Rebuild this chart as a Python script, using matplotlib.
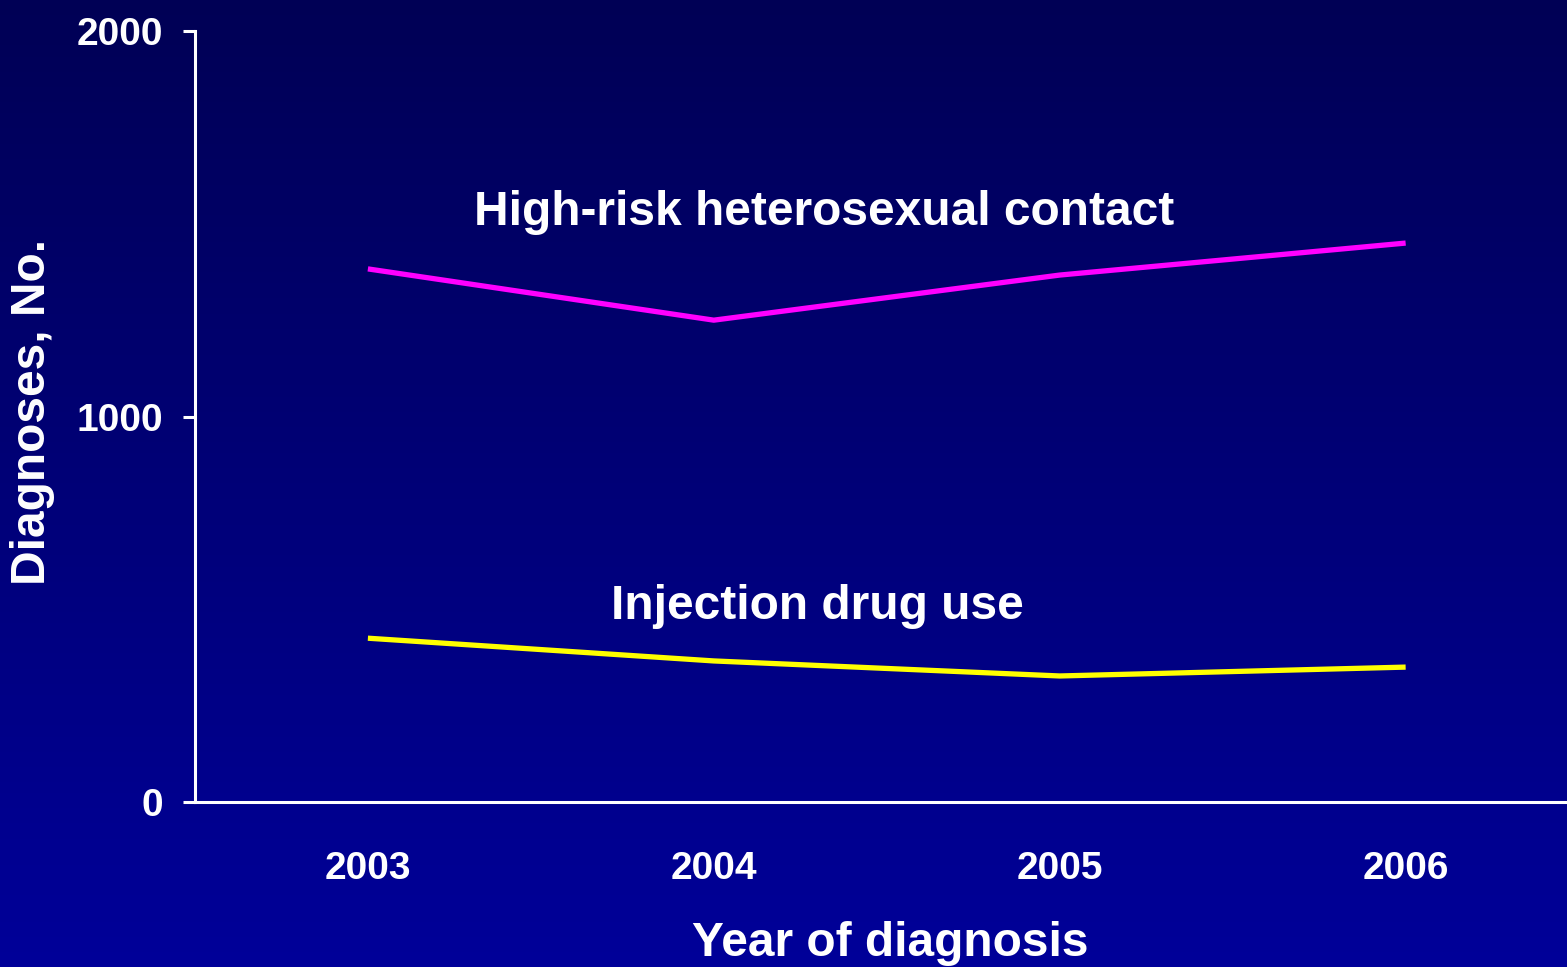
import numpy as np
import matplotlib
matplotlib.use("Agg")
from matplotlib import pyplot as plt
from matplotlib.colors import LinearSegmentedColormap

years = [2003, 2004, 2005, 2006]
hetero = [1383, 1250, 1367, 1450]
idu = [425, 366, 327, 350]
yticks = [0, 1000, 2000]

plt.rcParams['font.family'] = ['Liberation Sans', 'DejaVu Sans']
plt.rcParams['font.weight'] = 'bold'

fig = plt.figure(figsize=(15.67, 9.67), dpi=100)

# background gradient, dark navy at top to brighter blue at bottom
bg = fig.add_axes([0, 0, 1, 1], zorder=0)
cmap = LinearSegmentedColormap.from_list("bg", ["#000055", "#000099"])
grad = np.linspace(0, 1, 256).reshape(-1, 1)
bg.imshow(grad, aspect="auto", cmap=cmap, extent=[0, 1, 0, 1], origin="upper")
bg.axis("off")

ax = fig.add_axes([0.1244, 0.1706, 0.883, 0.7973], zorder=1)
ax.patch.set_alpha(0)

ax.plot(years, hetero, color="#ff00ff", lw=3.8, solid_capstyle="butt", clip_on=False)
ax.plot(years, idu, color="#ffff00", lw=3.8, solid_capstyle="butt", clip_on=False)

ax.set_xlim(2002.5, 2006.5)
ax.set_ylim(0, 2000)
ax.set_xticks(years)
ax.set_yticks(yticks)
ax.tick_params(axis="x", length=0, pad=35, labelsize=28, labelcolor="white")
ax.tick_params(axis="y", length=8.6, width=2.2, pad=14, labelsize=28,
               labelcolor="white", color="white")

for s in ["top", "right"]:
    ax.spines[s].set_visible(False)
for s in ["left", "bottom"]:
    ax.spines[s].set_color("white")
    ax.spines[s].set_linewidth(2.2)

ax.text(2004.32, 1528, "High-risk heterosexual contact", color="white",
        fontsize=34.5, fontweight="bold", ha="center", va="center")
ax.text(2004.30, 508, "Injection drug use", color="white",
        fontsize=34.5, fontweight="bold", ha="center", va="center")

fig.text(0.568, 0.024, "Year of diagnosis", color="white", fontsize=34.5,
         fontweight="bold", ha="center", va="center")
fig.text(0.021, 0.574, "Diagnoses, No.", color="white", fontsize=34.5,
         fontweight="bold", ha="center", va="center", rotation=90)

fig.savefig("out.png", dpi=100)
